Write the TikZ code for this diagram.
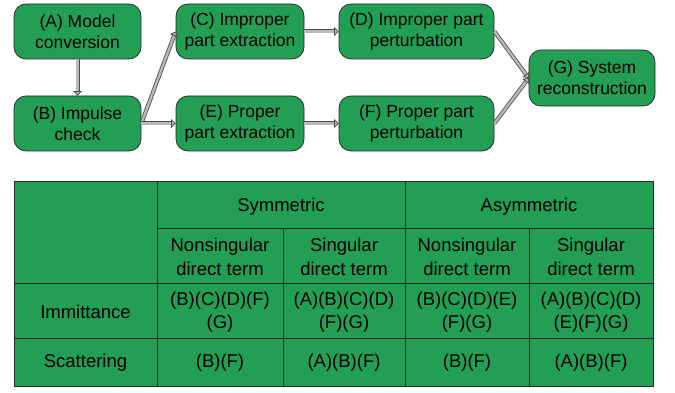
\documentclass[tikz,border=0pt]{standalone}
\usepackage{fontspec}
\setmainfont{Liberation Sans}
\usetikzlibrary{arrows.meta}
\definecolor{boxgreen}{RGB}{34,159,84}
\begin{document}
\begin{tikzpicture}[x=1pt,y=-1pt,
  proc/.style={draw=black!85, fill=boxgreen, rounded corners=12pt, line width=0.7pt,
    align=center, inner sep=0pt, font=\fontsize{17.5}{21}\selectfont},
  flow/.style={draw=black!70, line width=0.8pt, double=gray!55, double distance=2.4pt,
    -{Triangle[length=4.5pt,width=9pt,fill=gray!55]}},
  cell/.style={align=center, inner sep=0pt, font=\fontsize{18.5}{23.5}\selectfont},
  grid/.style={draw=black!85, line width=0.8pt}]
\useasboundingbox (0,0) rectangle (675,393);
% flowchart
\node[proc, minimum width=127pt, minimum height=55pt] (A) at (77.5,31.5) {(A) Model\\conversion};
\node[proc, minimum width=127pt, minimum height=55pt] (B) at (77.5,123.5) {(B) Impulse\\check};
\node[proc, minimum width=128pt, minimum height=55pt] (C) at (240,31.5) {(C) Improper\\part extraction};
\node[proc, minimum width=128pt, minimum height=55pt] (E) at (240,123.5) {(E) Proper\\part extraction};
\node[proc, minimum width=155pt, minimum height=55pt] (D) at (416.5,31.5) {(D) Improper part\\perturbation};
\node[proc, minimum width=155pt, minimum height=55pt] (F) at (416.5,123.5) {(F) Proper part\\perturbation};
\node[proc, minimum width=126pt, minimum height=56pt] (G) at (592,78) {(G) System\\reconstruction};
\draw[flow] (A) -- (B);
\draw[flow] (B.east) -- (C.west);
\draw[flow] (B.east) -- (E.west);
\draw[flow] (C) -- (D);
\draw[flow] (E) -- (F);
\draw[flow] (D.east) -- (G.west);
\draw[flow] (F.east) -- (G.west);
% table
\fill[boxgreen] (14,181) rectangle (653,386);
\draw[grid] (157,181) -- (157,386);
\draw[grid] (405,181) -- (405,386);
\draw[grid] (157,228) -- (653,228);
\draw[grid] (283,228) -- (283,386);
\draw[grid] (529,228) -- (529,386);
\draw[grid] (14,283) -- (653,283);
\draw[grid] (14,338) -- (653,338);
\draw[grid] (14,181) rectangle (653,386);
\node[cell] (sym) at (281,206.5) {Symmetric};
\node[cell] (asym) at (529,206.5) {Asymmetric};
\node[cell] (h1) at (220,257) {Nonsingular\\direct term};
\node[cell] (h2) at (344,257) {Singular\\direct term};
\node[cell] (h3) at (467,257) {Nonsingular\\direct term};
\node[cell] (h4) at (591,257) {Singular\\direct term};
\node[cell] (imm) at (85.5,312) {Immittance};
\node[cell] (i1) at (220,312) {(B)(C)(D)(F)\\(G)};
\node[cell] (i2) at (344,312) {(A)(B)(C)(D)\\(F)(G)};
\node[cell] (i3) at (467,312) {(B)(C)(D)(E)\\(F)(G)};
\node[cell] (i4) at (591,312) {(A)(B)(C)(D)\\(E)(F)(G)};
\node[cell] (sca) at (85.5,363) {Scattering};
\node[cell] (s1) at (220,363) {(B)(F)};
\node[cell] (s2) at (344,363) {(A)(B)(F)};
\node[cell] (s3) at (467,363) {(B)(F)};
\node[cell] (s4) at (591,363) {(A)(B)(F)};
\end{tikzpicture}
\end{document}
